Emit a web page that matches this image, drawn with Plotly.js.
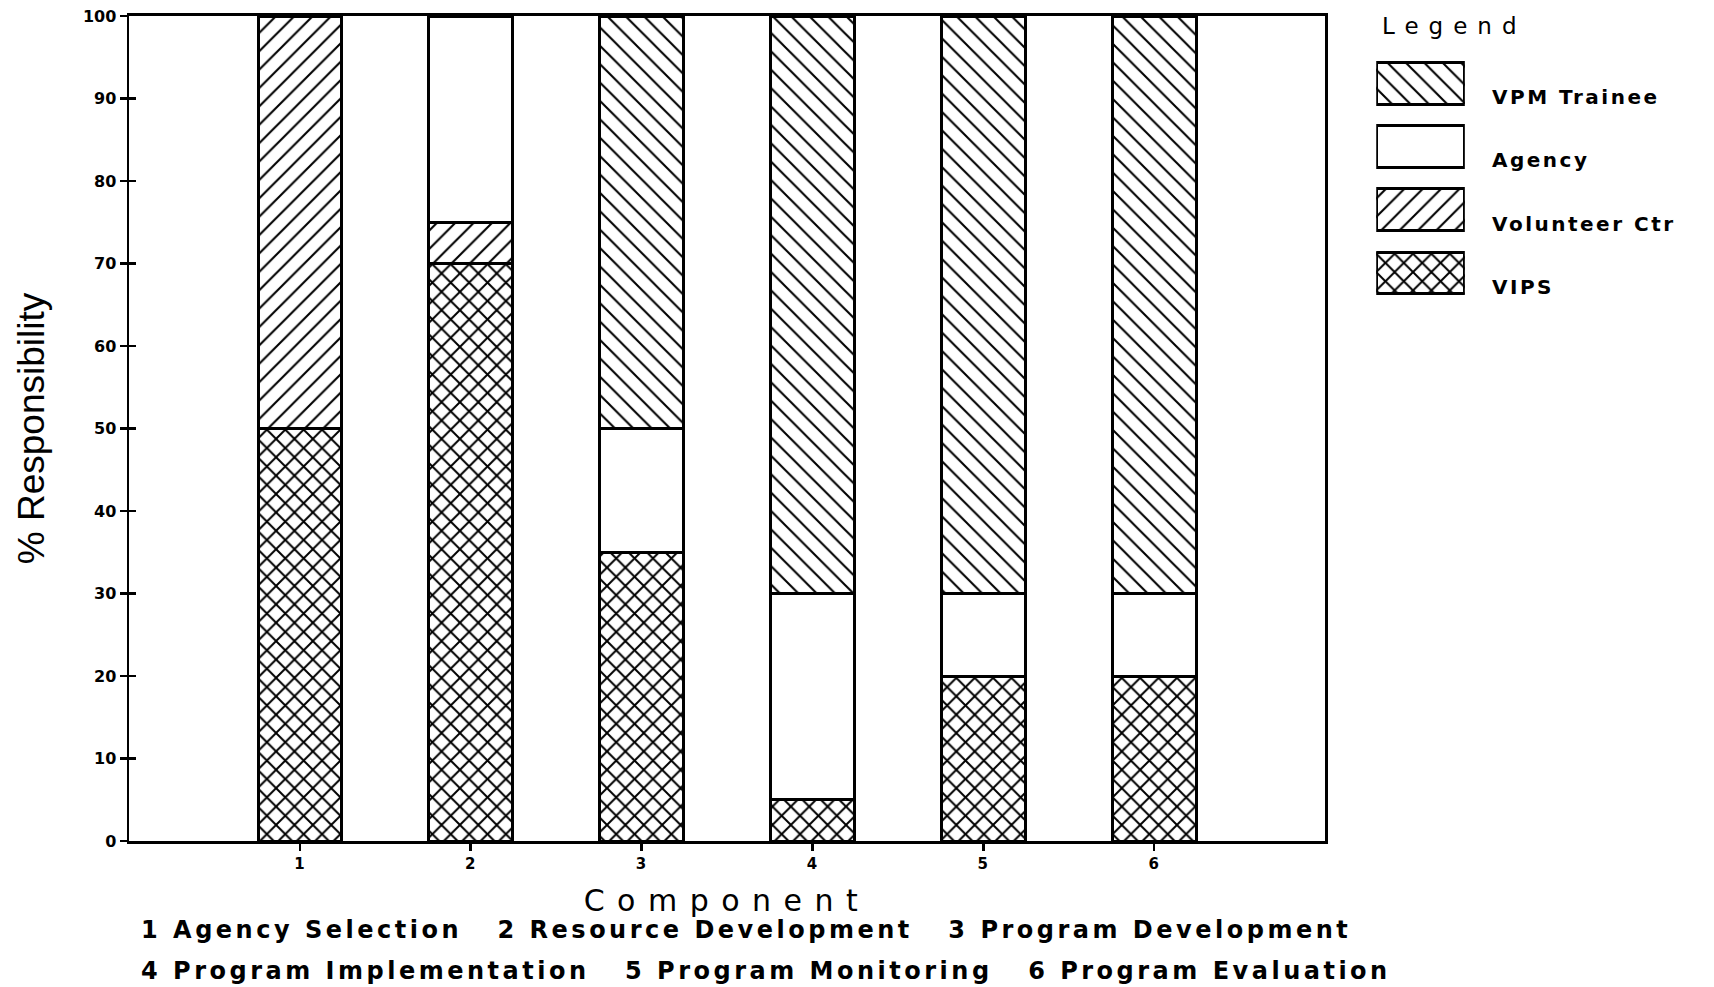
<!DOCTYPE html>
<html>
<head>
<meta charset="utf-8">
<script src="https://cdn.plot.ly/plotly-3.0.1.min.js"></script>
<style>
html, body { margin: 0; padding: 0; background: #ffffff; }
#chart { width: 1714px; height: 987px; }
.xtick text { letter-spacing: 1px; }
.xtitle { letter-spacing: 12.5px; }
.annotation[data-index="0"] text { letter-spacing: 10px; }
.annotation[data-index="1"] text, .annotation[data-index="2"] text,
.annotation[data-index="3"] text, .annotation[data-index="4"] text { letter-spacing: 2.5px; }
.annotation[data-index="5"] text, .annotation[data-index="6"] text { letter-spacing: 3.5px; }
</style>
</head>
<body>
<div id="chart"></div>
<script>
// ---- data ----
const components = [1, 2, 3, 4, 5, 6];
const componentNames = ['Agency Selection', 'Resource Development', 'Program Development',
                        'Program Implementation', 'Program Monitoring', 'Program Evaluation'];
const vips         = [50, 70, 35,  5, 20, 20];
const volunteerCtr = [50,  5,  0,  0,  0,  0];
const agency       = [ 0, 25, 15, 25, 10, 10];
const vpmTrainee   = [ 0,  0, 50, 70, 70, 70];
const yTickVals = [0, 10, 20, 30, 40, 50, 60, 70, 80, 90, 100];
const legendNames = ['VPM Trainee', 'Agency', 'Volunteer Ctr', 'VIPS'];
const legendSwatch = [1];

// ---- styles ----
const FONT = 'DejaVu Sans, sans-serif';
const patterns = {
  'VPM Trainee':   { shape: '\\', size: 13, solidity: 0.16 },
  'Agency':        { shape: '',   size: 13, solidity: 0.16 },
  'Volunteer Ctr': { shape: '/',  size: 13, solidity: 0.16 },
  'VIPS':          { shape: 'x',  size: 13, solidity: 0.28 }
};
function marker(name) {
  const p = patterns[name];
  return {
    color: '#ffffff',
    line: { color: '#000000', width: 3 },
    pattern: { shape: p.shape, size: p.size, solidity: p.solidity,
               fgcolor: '#000000', bgcolor: '#ffffff', fillmode: 'replace' }
  };
}

const seriesData = {
  'VIPS': vips, 'Volunteer Ctr': volunteerCtr, 'Agency': agency, 'VPM Trainee': vpmTrainee
};
const stackOrder = ['VIPS', 'Volunteer Ctr', 'Agency', 'VPM Trainee'];

const traces = stackOrder.map(name => ({
  type: 'bar', name: name, x: components, y: seriesData[name],
  width: 0.49, marker: marker(name), showlegend: false,
  xaxis: 'x', yaxis: 'y', hoverinfo: 'skip'
}));

// legend key drawn as a small bar subplot
legendNames.forEach(name => {
  traces.push({
    type: 'bar', orientation: 'h', name: name, y: [name], x: legendSwatch,
    width: 0.66, marker: marker(name), showlegend: false,
    xaxis: 'x2', yaxis: 'y2', hoverinfo: 'skip'
  });
});
// invisible carrier for the inside half of the crossing y ticks
traces.push({ type: 'scatter', mode: 'none', x: components, y: vips,
              xaxis: 'x', yaxis: 'y3', showlegend: false, hoverinfo: 'skip' });

const annotations = [];
annotations.push({
  text: 'Legend', xref: 'paper', yref: 'paper', x: 0.789, y: 0.988,
  xanchor: 'left', yanchor: 'middle', align: 'left', showarrow: false,
  font: { family: FONT, size: 23, color: '#000' }
});
legendNames.forEach((name, i) => {
  annotations.push({
    text: name, xref: 'x2', yref: 'y2', x: 1, y: i,
    xanchor: 'left', yanchor: 'middle', align: 'left', xshift: 25, yshift: -14, showarrow: false,
    font: { family: FONT, size: 20, color: '#000', weight: 'bold' }
  });
});
const SEP = '\u00a0\u00a0\u00a0';
const line1 = components.slice(0, 3).map((c, i) => c + '\u00a0' + componentNames[i]).join(SEP);
const line2 = components.slice(3).map((c, i) => c + '\u00a0' + componentNames[i + 3]).join(SEP);
[line1, line2].forEach((t, k) => {
  annotations.push({
    text: t, xref: 'paper', yref: 'paper', x: 0, y: 0, xshift: 10, yshift: k === 0 ? -89 : -130,
    xanchor: 'left', yanchor: 'middle', align: 'left', showarrow: false,
    font: { family: FONT, size: 24, color: '#000', weight: 'bold' }
  });
});

const layout = {
  width: 1714, height: 987,
  margin: { l: 129, r: 0, t: 16, b: 146, pad: 0 },
  paper_bgcolor: '#ffffff', plot_bgcolor: '#ffffff',
  barmode: 'stack', bargap: 0,
  font: { family: FONT, color: '#000000' },
  showlegend: false,
  xaxis: {
    domain: [0, 0.7546], range: [0, 7], tickvals: components, ticktext: components.map(String),
    ticks: 'outside', ticklen: 7, tickwidth: 2.5, tickcolor: '#000',
    showline: true, linewidth: 3, linecolor: '#000', mirror: true,
    showgrid: false, zeroline: false,
    tickfont: { family: FONT, size: 15, color: '#000', weight: 'bold' },
    title: { text: 'Component', standoff: 18,
             font: { family: FONT, size: 30, color: '#000' } }
  },
  yaxis: {
    domain: [0, 1], range: [0, 100], tickvals: yTickVals,
    ticks: 'outside', ticklen: 7, tickwidth: 2.5, tickcolor: '#000',
    ticklabelstandoff: 0,
    showline: true, linewidth: 2.5, linecolor: '#000', mirror: true,
    showgrid: false, zeroline: false,
    tickfont: { family: FONT, size: 16, color: '#000', weight: 'bold' },
    title: { text: '% Responsibility', standoff: 27,
             font: { family: 'Liberation Sans, Arial, sans-serif', size: 37, color: '#000' } }
  },
  yaxis3: {
    overlaying: 'y', anchor: 'x', side: 'left', range: [0, 100], tickvals: yTickVals,
    ticks: 'inside', ticklen: 7, tickwidth: 2.5, tickcolor: '#000',
    showticklabels: false, showline: false, showgrid: false, zeroline: false
  },
  xaxis2: {
    domain: [0.7869, 0.8428], range: [0, 1], anchor: 'y2', visible: false, fixedrange: true
  },
  yaxis2: {
    domain: [0.650, 0.957], anchor: 'x2', type: 'category', categoryorder: 'array',
    categoryarray: legendNames, range: [3.5, -0.5], visible: false, fixedrange: true
  },
  annotations: annotations
};

Plotly.newPlot('chart', traces, layout, { displayModeBar: false, staticPlot: true });
</script>
</body>
</html>
